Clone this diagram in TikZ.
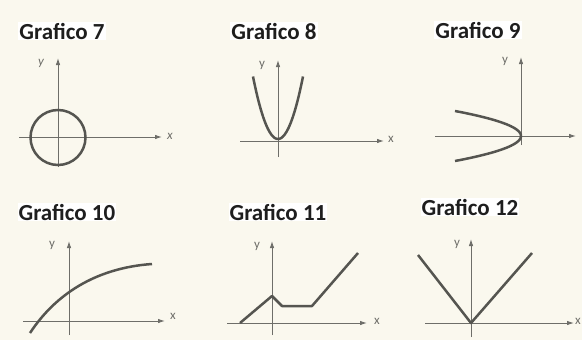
\documentclass[tikz,border=0pt]{standalone}
\usepackage{fontspec}
\setmainfont{Carlito}
\usetikzlibrary{arrows.meta}
\definecolor{paper}{RGB}{250,248,238}
\definecolor{axisc}{RGB}{110,110,105}
\definecolor{curvec}{RGB}{85,85,80}
\definecolor{titlec}{RGB}{30,30,30}
\begin{document}
\begin{tikzpicture}[x=1pt,y=-1pt,
  axis/.style={draw=axisc,line width=0.9pt,-{Latex[length=7pt,width=4.5pt]}},
  curve/.style={draw=curvec,line width=2.5pt},
  ttl/.style={font=\bfseries\fontsize{23}{26}\selectfont,text=titlec,fill=white,inner sep=1pt},
  lbl/.style={font=\fontsize{13}{15}\selectfont,text=axisc,inner sep=0pt}]
\fill[paper] (0,0) rectangle (582,340);
\useasboundingbox (0,0) rectangle (582,340);

% Grafico 7
\node[ttl] (t7) at (62,31) {Grafico 7};
\coordinate (y7a) at (58,167); \coordinate (y7b) at (58,58);
\coordinate (x7a) at (19,137); \coordinate (x7b) at (162,137);
\draw[axis] (y7a) -- (y7b);
\draw[axis] (x7a) -- (x7b);
\node[lbl,font=\itshape\fontsize{13}{15}\selectfont] (lx7) at (170,136) {x};
\node[lbl,font=\itshape\fontsize{13}{15}\selectfont] (ly7) at (41,63) {y};
\coordinate (c7) at (58,137.5);
\draw[curve] (c7) circle (27.5);

% Grafico 8
\node[ttl] (t8) at (274,31) {Grafico 8};
\coordinate (y8a) at (278,157); \coordinate (y8b) at (278,60);
\coordinate (x8a) at (240,141); \coordinate (x8b) at (384,141);
\draw[axis] (y8a) -- (y8b);
\draw[axis] (x8a) -- (x8b);
\node[lbl] (lx8) at (391,139) {x};
\node[lbl] (ly8) at (262,65) {y};
\draw[curve] plot[domain=-25:25,samples=50] ({278+\x},{139-0.1*\x*\x});

% Grafico 9
\node[ttl] (t9) at (478,30) {Grafico 9};
\coordinate (y9a) at (521,145); \coordinate (y9b) at (521,57);
\coordinate (x9a) at (435,136); \coordinate (x9b) at (576,136);
\draw[axis] (y9a) -- (y9b);
\draw[axis] (x9a) -- (x9b);
\node[lbl] (ly9) at (505,61) {y};
\draw[curve] plot[domain=-25:25,samples=50] ({521-0.1056*\x*\x},{136+\x});

% Grafico 10
\node[ttl] (t10) at (67,212) {Grafico 10};
\coordinate (y10a) at (69,335); \coordinate (y10b) at (69,241);
\coordinate (x10a) at (23,321); \coordinate (x10b) at (165,321);
\draw[axis] (y10a) -- (y10b);
\draw[axis] (x10a) -- (x10b);
\node[lbl] (lx10) at (173,316) {x};
\node[lbl] (ly10) at (52,245) {y};
\coordinate (p10a) at (30,333); \coordinate (p10b) at (152,264);
\draw[curve] (p10a) .. controls (55,295) and (95,268) .. (p10b);

% Grafico 11
\node[ttl] (t11) at (278,212) {Grafico 11};
\coordinate (y11a) at (272,335); \coordinate (y11b) at (272,241);
\coordinate (x11a) at (227,323); \coordinate (x11b) at (367,323);
\draw[axis] (y11a) -- (y11b);
\draw[axis] (x11a) -- (x11b);
\node[lbl] (lx11) at (377,321) {x};
\node[lbl] (ly11) at (257,246) {y};
\coordinate (q1) at (240,323); \coordinate (q2) at (272,296);
\coordinate (q3) at (282,306); \coordinate (q4) at (312,306);
\coordinate (q5) at (358,253);
\draw[curve,line join=round] (q1) -- (q2) -- (q3) -- (q4) -- (q5);

% Grafico 12
\node[ttl] (t12) at (470,207) {Grafico 12};
\coordinate (y12a) at (471,337); \coordinate (y12b) at (471,239);
\coordinate (x12a) at (425,323); \coordinate (x12b) at (574,323);
\draw[axis] (y12a) -- (y12b);
\draw[axis] (x12a) -- (x12b);
\node[lbl] (lx12) at (578,321) {x};
\node[lbl] (ly12) at (457,244) {y};
\coordinate (v1) at (418,255); \coordinate (v2) at (471,323); \coordinate (v3) at (532,253);
\draw[curve,line join=round] (v1) -- (v2) -- (v3);
\end{tikzpicture}
\end{document}
